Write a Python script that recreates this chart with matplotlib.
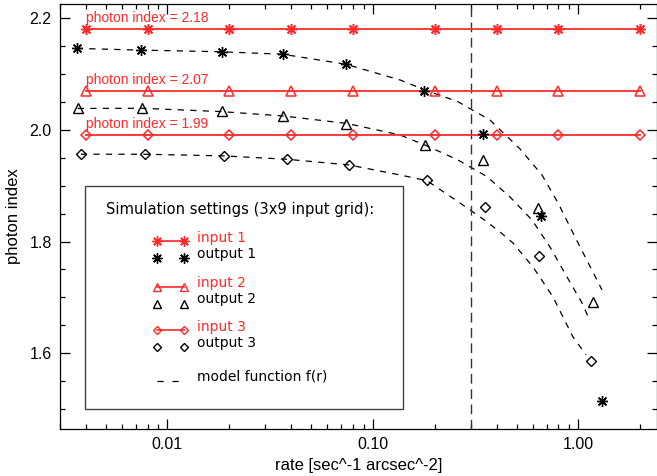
import matplotlib
matplotlib.use("Agg")
import matplotlib.pyplot as plt
from matplotlib.patches import Rectangle
from matplotlib.lines import Line2D
from matplotlib.ticker import LogLocator, MultipleLocator, FixedLocator, FixedFormatter, NullFormatter

# Simulation input grid (3 photon indices x 9 rates)
input_rate = [0.004, 0.008, 0.02, 0.04, 0.08, 0.2, 0.4, 0.8, 2.0]
input_index = [2.18, 2.07, 1.99]

# Recovered (output) values for each input photon index
out1_rate = [0.00362, 0.00741, 0.0184, 0.0365, 0.0739, 0.177, 0.344, 0.658, 1.30]
out1_index = [2.146, 2.143, 2.140, 2.136, 2.118, 2.070, 1.993, 1.846, 1.515]

out2_rate = [0.00366, 0.00751, 0.0184, 0.0365, 0.0739, 0.179, 0.344, 0.638, 1.174]
out2_index = [2.039, 2.040, 2.033, 2.025, 2.011, 1.973, 1.946, 1.860, 1.692]

out3_rate = [0.00379, 0.00776, 0.0188, 0.0381, 0.0764, 0.183, 0.351, 0.645, 1.152]
out3_index = [1.956, 1.956, 1.953, 1.947, 1.937, 1.910, 1.862, 1.774, 1.585]

# Model function f(r) sampled along each track
model1_rate = [0.00362, 0.00741, 0.0184, 0.0365, 0.0739, 0.1355, 0.179, 0.259,
               0.371, 0.520, 0.665, 0.796, 0.996, 1.303]
model1_index = [2.146, 2.143, 2.140, 2.1355, 2.1176, 2.0895, 2.0716, 2.0506,
                2.0178, 1.9659, 1.9193, 1.8692, 1.7975, 1.7133]

model2_rate = [0.00366, 0.00751, 0.0184, 0.0365, 0.0747, 0.1353, 0.181, 0.259,
               0.359, 0.4645, 0.594, 0.727, 0.880, 1.041, 1.139]
model2_index = [2.0384, 2.0388, 2.0327, 2.0250, 2.0116, 1.9910, 1.9722, 1.9462,
                1.9163, 1.8799, 1.8387, 1.7904, 1.7366, 1.6901, 1.6578]

model3_rate = [0.00379, 0.00776, 0.0188, 0.0381, 0.0764, 0.1353, 0.183, 0.265,
               0.343, 0.415, 0.480, 0.601, 0.752, 0.941, 1.089]
model3_index = [1.9564, 1.9564, 1.9534, 1.9474, 1.9372, 1.9193, 1.9091, 1.8692,
                1.8405, 1.8172, 1.7975, 1.7545, 1.7008, 1.6291, 1.5969]

threshold_rate = 0.3

x_ticks = [0.01, 0.1, 1.0]
x_ticklabels = ["0.01", "0.10", "1.00"]
y_ticks = [1.6, 1.8, 2.0, 2.2]
y_ticklabels = ["1.6", "1.8", "2.0", "2.2"]

RED = "#ff2a2a"
STAR = (8, 2, 0)
markers = [STAR, "^", "D"]
msizes = [7.8, 6.5, 4.6]
outputs = [(out1_rate, out1_index), (out2_rate, out2_index), (out3_rate, out3_index)]
models = [(model1_rate, model1_index), (model2_rate, model2_index), (model3_rate, model3_index)]

W, H = 657, 476
fig = plt.figure(figsize=(W / 100, H / 100), dpi=100)
L, R, T, B = 60, 656.5, 4, 429
ax = fig.add_axes([L / W, 1 - B / H, (R - L) / W, (B - T) / H])
ax.set_xscale("log")
ax.set_xlim(0.003, 2.4)
ax.set_ylim(1.464, 2.2256)

for (mr, mi) in models:
    ax.plot(mr, mi, color="black", lw=0.9, ls="--", dashes=(5, 5))

ax.axvline(threshold_rate, color="#333333", lw=1.0, dashes=(7, 4))

for k, val in enumerate(input_index):
    ax.plot(input_rate, [val] * len(input_rate), color=RED, lw=1.3,
            marker=markers[k], ms=msizes[k], mfc="none" if k else RED,
            mec=RED, mew=1.1)
    ax.annotate("photon index = %.2f" % val, xy=(input_rate[0], val),
                xytext=(0, 8), textcoords="offset points", ha="left",
                va="center", color=RED, fontsize=10, family="Liberation Sans")

for k, (orate, oidx) in enumerate(outputs):
    ax.plot(orate, oidx, ls="none", marker=markers[k], ms=msizes[k],
            mfc="none" if k else "black", mec="black", mew=1.0)

# axes styling
ax.xaxis.set_major_locator(FixedLocator(x_ticks))
ax.xaxis.set_major_formatter(FixedFormatter(x_ticklabels))
ax.xaxis.set_minor_locator(LogLocator(base=10, subs=range(2, 10)))
ax.xaxis.set_minor_formatter(NullFormatter())
ax.yaxis.set_major_locator(FixedLocator(y_ticks))
ax.yaxis.set_major_formatter(FixedFormatter(y_ticklabels))
ax.yaxis.set_minor_locator(MultipleLocator(0.05))
ax.tick_params(which="both", direction="in", top=True, right=True, width=0.9,
               labelsize=11.5, colors="black")
ax.tick_params(which="major", length=7.5, pad=6)
ax.tick_params(which="minor", length=3.8)
for lab in ax.get_xticklabels() + ax.get_yticklabels():
    lab.set_family("Liberation Sans")
for s in ax.spines.values():
    s.set_linewidth(0.9)

ax.set_xlabel("rate [sec^-1 arcsec^-2]", fontsize=12, family="Liberation Sans", labelpad=4)
ax.set_ylabel("photon index", fontsize=12, family="Liberation Sans", labelpad=6)

# legend panel drawn in pixel-based axes fractions
def af(px, py):
    return ((px - L) / (R - L), (B - py) / (B - T))

x0, y0 = af(85, 409)
x1, y1 = af(403, 186)
ax.add_patch(Rectangle((x0, y0), x1 - x0, y1 - y0, transform=ax.transAxes,
                       fill=True, facecolor="white", edgecolor="#444444",
                       lw=1.0, zorder=5))

tfont = dict(family="DejaVu Sans", fontsize=10.0, va="center", ha="left",
             transform=ax.transAxes, zorder=6)
ax.text(*af(106, 209.5), "Simulation settings (3x9 input grid):", color="black",
        **dict(tfont, fontsize=10.6))

rows = [(241, 258.3, 237.7, 254), (286.7, 304, 282.7, 299), (330, 346.7, 326.7, 343.3)]
for k, (yi, yo, ti, to) in enumerate(rows):
    xa, ya = af(157.3, yi)
    xb, _ = af(184, yi)
    ax.add_line(Line2D([xa, xb], [ya, ya], transform=ax.transAxes, color=RED,
                       lw=1.2, marker=markers[k], ms=msizes[k] * 0.95,
                       mfc="none" if k else RED, mec=RED, mew=1.0, zorder=6))
    _, yo_ = af(0, yo)
    ax.add_line(Line2D([xa, xb], [yo_, yo_], transform=ax.transAxes, ls="none",
                       marker=markers[k], ms=msizes[k] * 0.95,
                       mfc="none" if k else "black", mec="black", mew=1.0, zorder=6))
    ax.text(*af(197, ti), "input %d" % (k + 1), color=RED, **tfont)
    ax.text(*af(197, to), "output %d" % (k + 1), color="black", **tfont)

xa, ym = af(157, 381)
xb, _ = af(182, 381)
ax.add_line(Line2D([xa, xb], [ym, ym], transform=ax.transAxes, color="black",
                   lw=0.9, dashes=(5, 7), zorder=6))
ax.text(*af(197, 376.7), "model function f(r)", color="black", **tfont)

fig.savefig("out.png", dpi=100)
